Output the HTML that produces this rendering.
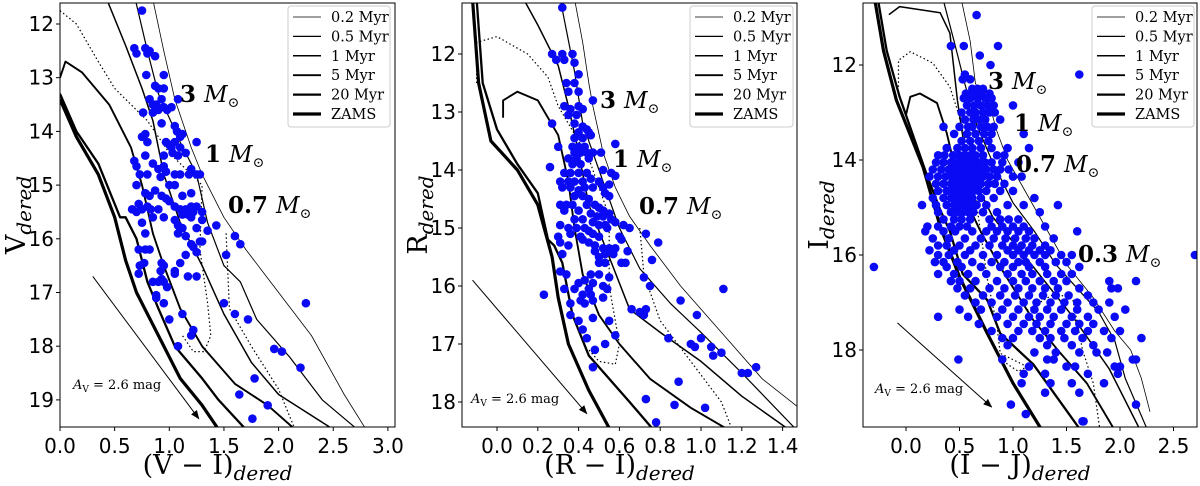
<!DOCTYPE html>
<html><head><meta charset="utf-8">
<style>
html,body{margin:0;padding:0;background:#fff;}
svg{display:block;}
.tick{font-family:"DejaVu Sans","Liberation Sans",sans-serif;font-size:20px;fill:#000;}
.leg{font-family:"DejaVu Serif","Liberation Serif",serif;font-size:14.5px;fill:#000;}
.av{font-family:"DejaVu Serif","Liberation Serif",serif;font-size:13px;fill:#000;}
.ax{font-family:"DejaVu Serif","Liberation Serif",serif;font-size:27px;fill:#000;}
.mass{font-family:"DejaVu Serif","Liberation Serif",serif;font-size:23px;fill:#000;}
</style></head>
<body>
<svg id="fig" width="1200" height="486" viewBox="0 0 1200 486" xmlns="http://www.w3.org/2000/svg"></svg>
<script>
// ---------- Panel 1: V vs (V-I) ----------
const p1Stars = [[0.75,11.75],[0.68,12.45],[0.7,12.55],[0.78,12.45],[0.8,12.55],[0.82,12.5],[0.87,12.6],[0.79,12.95],[0.87,13.15],[0.9,13.2],[0.95,13.2],[0.95,12.95],[1.08,13.4],[0.82,13.4],[0.85,13.5],[0.88,13.5],[0.93,13.4],[0.95,13.55],[0.98,13.6],[1.02,13.55],[0.76,13.65],[0.85,13.65],[0.9,13.6],[0.93,13.85],[1.05,13.9],[1.07,14.0],[1.1,14.1],[1.12,14.05],[0.75,14.1],[0.78,14.05],[0.8,14.2],[0.97,14.2],[1.0,14.25],[1.02,14.3],[1.05,14.2],[1.1,14.3],[1.15,14.4],[1.25,14.2],[0.95,14.45],[1.03,14.4],[1.08,14.45],[0.78,14.45],[0.68,14.55],[0.7,14.65],[0.85,14.6],[0.9,14.7],[0.95,14.65],[0.97,14.75],[1.2,14.7],[1.25,14.8],[1.28,14.8],[0.73,14.8],[0.8,14.8],[0.92,14.85],[1.05,14.8],[1.1,14.8],[1.18,14.8],[0.7,15.0],[1.0,15.0],[1.05,15.0],[0.78,15.15],[0.82,15.2],[0.87,15.1],[0.93,15.2],[0.97,15.25],[1.0,15.3],[1.12,15.2],[1.2,15.15],[0.72,15.35],[0.75,15.45],[0.8,15.4],[0.83,15.45],[0.9,15.45],[1.05,15.4],[1.1,15.45],[1.15,15.45],[1.2,15.4],[1.25,15.4],[1.12,15.55],[1.17,15.55],[1.22,15.5],[1.3,15.5],[0.66,15.45],[0.7,15.5],[0.85,15.6],[0.95,15.6],[1.05,15.65],[1.2,15.6],[1.3,15.65],[0.75,15.7],[1.08,15.75],[1.12,15.8],[1.25,15.8],[1.35,15.85],[1.43,15.75],[1.6,15.95],[1.65,16.1],[0.78,15.9],[1.08,15.9],[1.15,15.95],[1.28,16.05],[1.3,16.05],[1.2,16.1],[0.72,16.2],[0.78,16.2],[0.82,16.2],[1.15,16.3],[1.25,16.25],[1.22,16.15],[1.52,16.3],[1.1,16.45],[0.93,16.45],[0.95,16.5],[0.73,16.5],[0.77,16.45],[1.05,16.6],[0.72,16.65],[0.92,16.6],[0.93,16.75],[0.9,16.8],[0.85,16.8],[0.95,16.8],[0.98,16.9],[1.05,16.65],[1.17,16.7],[1.25,16.7],[0.88,17.05],[0.88,17.1],[0.95,17.2],[2.25,17.2],[1.5,17.2],[1.6,17.4],[1.72,17.5],[1.0,17.5],[1.12,17.4],[1.22,17.7],[1.2,17.8],[1.08,18.0],[1.96,18.05],[2.03,18.1],[2.2,18.4],[1.78,18.6],[1.64,18.9],[1.9,19.1],[1.76,19.35]];
const p1Iso02 = [[0.85,11.55],[0.95,12.5],[1.05,13.4],[1.2,14.3],[1.3,14.8],[1.5,15.6],[1.7,16.2],[2.0,17.0],[2.3,17.8],[2.6,18.9],[2.8,19.55]];
const p1Iso05 = [[0.69,11.55],[0.8,12.5],[0.9,13.3],[1.1,14.2],[1.25,14.8],[1.35,15.7],[1.5,16.5],[1.65,16.8],[1.8,17.5],[2.1,18.2],[2.4,19.0],[2.72,19.55]];
const p1Iso1 = [[0.43,11.55],[0.6,12.4],[0.75,13.2],[0.85,13.8],[0.95,14.8],[1.1,15.7],[1.3,16.5],[1.5,17.4],[1.75,18.3],[2.0,18.9],[2.5,19.55]];
const p1Iso5 = [[0.0,13.0],[0.05,12.7],[0.2,12.9],[0.45,13.5],[0.65,14.3],[0.75,15.0],[0.85,15.9],[0.95,16.5],[1.1,17.3],[1.3,18.0],[1.6,18.7],[1.9,19.1],[2.15,19.55]];
const p1Iso20 = [[0.0,13.3],[0.15,14.0],[0.35,14.6],[0.55,15.6],[0.6,15.6],[0.7,16.0],[0.8,16.8],[0.9,17.3],[1.05,18.0],[1.3,18.6],[1.45,19.0],[1.7,19.55]];
const p1Zams = [[0.0,13.4],[0.15,14.1],[0.35,14.8],[0.5,15.6],[0.6,16.4],[0.7,17.0],[0.9,17.8],[1.1,18.6],[1.3,19.1],[1.45,19.55]];
const p1MassTrack = [[0.0,11.75],[0.15,12.0],[0.35,12.7],[0.5,13.2],[0.65,13.5],[0.8,13.8],[1.0,14.4],[1.3,15.0],[1.28,16.2],[1.35,17.2],[1.38,17.8],[1.32,18.1],[1.22,18.1],[1.12,17.8]];
const p1MassTrack2 = [[1.52,15.9],[1.55,17.3],[1.75,18.0],[2.0,18.8],[2.15,19.55]];
const p1Arrow = [[0.3,16.7],[1.27,19.35]];
const p1XTicks = [0.0,0.5,1.0,1.5,2.0,2.5,3.0];
const p1YTicks = [12,13,14,15,16,17,18,19];

// ---------- Panel 2: R vs (R-I) ----------
const p2Stars = [[0.32,11.2],[0.27,12.0],[0.29,12.1],[0.32,12.0],[0.33,12.1],[0.37,12.0],[0.38,12.15],[0.4,12.35],[0.38,12.5],[0.34,12.5],[0.35,12.65],[0.4,12.65],[0.47,12.8],[0.33,12.9],[0.36,12.95],[0.4,12.9],[0.42,12.95],[0.35,13.05],[0.39,13.05],[0.27,13.2],[0.38,13.2],[0.42,13.25],[0.44,13.3],[0.4,13.35],[0.45,13.35],[0.38,13.45],[0.42,13.45],[0.46,13.4],[0.58,13.55],[0.3,13.6],[0.37,13.6],[0.4,13.6],[0.43,13.6],[0.38,13.7],[0.41,13.7],[0.44,13.7],[0.47,13.7],[0.51,13.7],[0.35,13.8],[0.39,13.8],[0.45,13.8],[0.37,13.9],[0.41,13.9],[0.26,13.95],[0.33,14.05],[0.36,14.05],[0.4,14.05],[0.44,14.05],[0.52,14.0],[0.56,14.05],[0.58,14.1],[0.31,14.2],[0.35,14.2],[0.38,14.2],[0.42,14.2],[0.46,14.15],[0.5,14.2],[0.52,14.3],[0.55,14.25],[0.32,14.3],[0.36,14.3],[0.4,14.35],[0.43,14.3],[0.47,14.3],[0.53,14.4],[0.55,14.45],[0.38,14.45],[0.42,14.45],[0.45,14.5],[0.31,14.6],[0.34,14.6],[0.37,14.6],[0.44,14.6],[0.48,14.6],[0.5,14.65],[0.52,14.7],[0.55,14.75],[0.33,14.7],[0.4,14.7],[0.46,14.75],[0.49,14.8],[0.52,14.8],[0.56,14.85],[0.38,14.85],[0.42,14.85],[0.47,14.9],[0.5,14.95],[0.53,14.95],[0.31,14.95],[0.35,15.0],[0.39,15.0],[0.43,15.0],[0.45,15.05],[0.54,15.0],[0.58,14.9],[0.62,14.95],[0.65,15.0],[0.3,15.15],[0.36,15.1],[0.41,15.15],[0.47,15.1],[0.5,15.15],[0.6,15.15],[0.61,15.2],[0.73,15.1],[0.79,15.25],[0.31,15.25],[0.42,15.2],[0.45,15.25],[0.48,15.3],[0.52,15.35],[0.55,15.35],[0.58,15.35],[0.35,15.3],[0.48,15.4],[0.5,15.5],[0.53,15.45],[0.57,15.45],[0.64,15.4],[0.5,15.6],[0.53,15.6],[0.61,15.6],[0.63,15.6],[0.32,15.45],[0.76,15.55],[0.31,15.75],[0.34,15.8],[0.46,15.8],[0.5,15.8],[0.55,15.85],[0.72,15.85],[0.75,16.0],[0.4,15.95],[0.43,15.9],[0.47,15.95],[0.52,16.0],[0.54,16.05],[0.33,16.05],[0.38,16.05],[0.45,16.05],[0.23,16.15],[0.42,16.15],[0.46,16.15],[0.52,16.2],[0.36,16.3],[0.41,16.25],[0.43,16.3],[0.47,16.25],[0.9,16.25],[0.84,16.9],[0.66,16.4],[0.7,16.45],[0.72,16.5],[0.73,16.4],[0.36,16.5],[0.47,16.55],[0.55,16.6],[0.98,16.5],[0.4,16.6],[0.42,16.75],[0.44,16.9],[0.58,16.85],[0.53,17.0],[1.0,16.9],[0.95,17.0],[0.97,17.05],[1.05,17.05],[1.06,17.2],[1.1,17.15],[0.48,17.1],[0.47,17.4],[1.2,17.5],[1.23,17.5],[1.27,17.4],[1.11,16.05],[0.89,17.65],[0.73,17.95],[0.87,18.05],[1.02,18.1],[0.78,18.35]];
const p2Iso02 = [[0.38,11.05],[0.42,11.8],[0.45,12.5],[0.47,12.9],[0.52,13.7],[0.58,14.3],[0.65,14.8],[0.75,15.3],[0.9,16.0],[1.1,16.8],[1.3,17.6],[1.48,18.1]];
const p2Iso05 = [[0.31,11.05],[0.38,12.3],[0.42,13.2],[0.5,14.0],[0.55,14.5],[0.6,15.0],[0.7,15.7],[0.85,16.3],[1.0,16.8],[1.2,17.5],[1.46,18.45]];
const p2Iso1 = [[0.13,11.05],[0.2,11.5],[0.3,12.2],[0.35,12.9],[0.4,13.7],[0.45,14.6],[0.55,15.5],[0.65,16.4],[0.8,16.8],[1.0,17.3],[1.2,17.9],[1.42,18.45]];
const p2Iso5 = [[0.03,13.1],[0.03,12.8],[0.1,12.65],[0.2,12.8],[0.3,13.4],[0.35,14.2],[0.38,15.0],[0.42,15.8],[0.5,16.5],[0.6,17.0],[0.75,17.6],[0.95,18.1],[1.12,18.45]];
const p2Iso20 = [[-0.1,11.05],[-0.07,12.5],[0.0,13.3],[0.1,13.9],[0.2,14.4],[0.25,15.2],[0.28,15.3],[0.32,15.6],[0.37,16.5],[0.45,17.2],[0.55,17.6],[0.65,18.0],[0.76,18.45]];
const p2Zams = [[-0.12,11.05],[-0.09,12.5],[-0.03,13.5],[0.1,14.0],[0.2,14.6],[0.27,15.5],[0.3,16.2],[0.35,17.0],[0.45,17.8],[0.55,18.45]];
const p2MassTrack = [[-0.1,12.5],[-0.1,11.8],[0.0,11.7],[0.15,12.0],[0.25,12.4],[0.3,12.9],[0.45,13.8],[0.55,14.8],[0.55,16.0],[0.6,17.0],[0.58,17.35],[0.5,17.3],[0.45,17.1]];
const p2MassTrack2 = [[0.7,15.0],[0.72,15.8],[0.8,16.6],[0.95,17.3],[1.1,18.0],[1.15,18.45]];
const p2Arrow = [[-0.12,15.9],[0.44,18.2]];
const p2XTicks = [0.0,0.2,0.4,0.6,0.8,1.0,1.2,1.4];
const p2YTicks = [12,13,14,15,16,17,18];

// ---------- Panel 3: I vs (I-J) ----------
const p3RowMags = [10.95,11.6,11.8,12.0,12.2,12.3,12.5,12.6,12.7,12.85,13.0,13.15,13.3,13.45,13.6,13.75,13.9,14.05,14.2,14.35,14.5,14.65,14.8,14.95,15.1,15.25,15.4,15.5,15.65,15.8,15.9,16.0,16.15,16.25,16.4,16.55,16.7,16.85,17.0,17.15,17.3,17.45,17.6,17.75,17.9,18.05,18.2,18.35,18.5,18.7,18.9,19.15,19.35,19.5];
const p3RowColors = [[0.66],[0.42,0.54,0.86],[0.69],[0.79],[0.55,1.62],[0.53,0.6],[0.62,0.67,0.72],[0.56,0.63,0.7,0.78],[0.54,0.6,0.67,0.74,0.8],[0.57,0.64,0.7,0.76,0.82,1.0],[0.52,0.6,0.65,0.72,0.78,0.83],[0.55,0.63,0.68,0.74,0.88],[0.35,0.5,0.58,0.62,0.7,0.76,0.82],[0.45,0.57,0.65,0.73,0.8,1.1],[0.52,0.6,0.68,0.77],[0.38,0.48,0.55,0.62,0.7,0.8,0.95,1.15],[0.3,0.36,0.44,0.5,0.55,0.6,0.65,0.72,0.85,0.92],[0.28,0.35,0.42,0.48,0.53,0.58,0.63,0.68,0.74,0.8,0.9,1.05],[0.25,0.33,0.4,0.45,0.5,0.55,0.6,0.65,0.7,0.75,0.82,0.88,0.96],[0.22,0.3,0.37,0.43,0.48,0.53,0.58,0.62,0.67,0.72,0.78,0.85,1.0,1.08],[0.28,0.35,0.42,0.46,0.5,0.55,0.6,0.65,0.7,0.77,0.83,0.92],[0.3,0.38,0.44,0.48,0.53,0.58,0.63,0.68,0.75,0.88,1.0],[0.25,0.35,0.42,0.47,0.52,0.57,0.62,0.7,0.82,1.2],[0.15,0.28,0.38,0.45,0.5,0.55,0.6,0.66,0.75,0.95,1.1,1.42],[0.3,0.42,0.48,0.53,0.58,0.63,0.72,0.85,1.25],[0.35,0.45,0.52,0.6,0.78,0.88,0.96,1.05],[0.2,0.3,0.42,0.5,0.57,0.8,0.9,1.0,1.1,1.3],[0.18,0.35,0.46,0.62,0.75,0.85,0.95,1.05,1.15,1.6],[0.25,0.4,0.55,0.7,0.82,0.93,1.02,1.12,1.2,1.38],[0.3,0.38,0.5,0.65,0.78,0.9,1.0,1.08,1.18,1.3],[0.22,0.45,0.6,0.95,1.05,1.15,1.25,1.35],[0.3,0.4,0.55,0.72,0.85,1.0,1.1,1.2,1.3,1.45,1.55,2.7],[0.27,0.35,0.48,0.62,0.8,0.92,1.05,1.12,1.25,1.4,1.5],[-0.3,0.38,0.52,0.7,0.88,1.0,1.15,1.3,1.62],[0.3,0.45,0.58,0.75,0.95,1.08,1.18,1.32,1.45,1.55],[0.42,0.5,0.65,0.85,1.0,1.12,1.25,1.38,1.5,1.9,2.15],[0.48,0.6,0.78,0.92,1.05,1.18,1.3,1.42,1.62,1.92,1.98],[0.55,0.72,0.88,1.02,1.15,1.28,1.4,1.52,1.7],[0.65,0.8,0.95,1.1,1.22,1.35,1.48,1.6,1.75,1.9],[0.5,0.7,0.9,1.05,1.2,1.32,1.45,1.6,1.8,2.05],[0.3,0.58,0.85,1.0,1.15,1.25,1.38,1.55,1.7,1.95],[0.68,0.95,1.1,1.22,1.35,1.5,1.62,1.75],[0.8,1.05,1.18,1.3,1.45,1.58,1.7,1.85,2.0],[0.9,1.0,1.25,1.35,1.48,1.65,1.92,2.2],[0.95,1.32,1.55,1.75],[1.2,1.4,1.62,1.78,1.88],[0.49,0.9,1.32,1.38,2.12,2.15],[1.15,1.5,1.58,1.95,2.0],[1.1,1.3,1.7,1.98],[1.08,1.35,1.55,1.85],[1.3,1.62],[0.98,2.15],[1.12],[1.65,1.66]];
const p3Iso02 = [[0.52,10.65],[0.6,11.5],[0.65,12.4],[0.75,12.6],[0.85,13.4],[0.95,14.0],[1.1,14.6],[1.3,15.4],[1.5,16.2],[1.75,16.9],[1.95,17.6],[2.1,18.0],[2.2,18.6],[2.28,19.3]];
const p3Iso05 = [[0.35,10.65],[0.45,11.5],[0.55,12.4],[0.65,13.2],[0.8,14.0],[1.0,14.9],[1.2,15.5],[1.4,16.2],[1.6,16.7],[1.8,17.2],[1.95,17.8],[2.05,18.6],[2.25,19.65]];
const p3Iso1 = [[-0.16,10.94],[-0.06,10.77],[0.32,10.9],[0.41,11.33],[0.48,12.74],[0.57,14.1],[0.81,15.2],[1.19,16.25],[1.56,17.3],[1.9,18.4],[2.18,19.65]];
const p3Iso5 = [[0.0,13.05],[0.04,12.67],[0.13,12.6],[0.29,12.8],[0.38,13.43],[0.5,14.57],[0.69,15.47],[0.88,16.25],[1.19,17.37],[1.44,18.06],[1.69,18.7],[1.94,19.65]];
const p3Iso20 = [[-0.26,10.65],[-0.18,11.7],[-0.06,12.67],[0.2,14.35],[0.32,15.05],[0.41,15.5],[0.53,16.4],[0.76,16.95],[0.88,17.65],[1.19,18.3],[1.62,19.65]];
const p3Zams = [[-0.29,10.65],[-0.21,11.7],[-0.09,12.74],[0.16,14.15],[0.32,15.4],[0.5,16.46],[0.76,17.65],[1.0,18.7],[1.26,19.65]];
const p3MassTrack = [[-0.07,12.46],[-0.07,11.9],[0.04,11.72],[0.25,11.96],[0.41,12.46],[0.48,12.95],[0.6,14.0],[0.76,16.5],[0.85,17.5],[0.88,18.07],[1.13,18.35],[1.05,18.45],[0.95,18.3],[0.9,18.2]];
const p3MassTrack2 = [[1.13,17.16],[1.4,16.8],[1.56,16.95],[1.65,18.0],[1.75,18.7],[1.81,19.65]];
const p3Arrow = [[-0.08,17.43],[0.8,19.2]];
const p3XTicks = [0.0,0.5,1.0,1.5,2.0,2.5];
const p3YTicks = [12,14,16,18];

const legendLabels = ["0.2 Myr","0.5 Myr","1 Myr","5 Myr","20 Myr","ZAMS"];

const NS = "http://www.w3.org/2000/svg";
const svg = document.getElementById("fig");
function mk(tag, attrs, parent){
  const e = document.createElementNS(NS, tag);
  for (const k in attrs) e.setAttribute(k, attrs[k]);
  (parent||svg).appendChild(e);
  return e;
}

const panels = [
  {id:"p1", box:[60,3,395,427], sx:x=>60+109.3*x, sy:y=>24+53.7*(y-12), xt:p1XTicks, yt:p1YTicks,
   stars:p1Stars, iso:[p1Iso02,p1Iso05,p1Iso1,p1Iso5,p1Iso20,p1Zams], tracks:[p1MassTrack,p1MassTrack2], arrow:p1Arrow,
   mag:"V", col:"(V \u2212 I)", masses:[["3",180,102],["1",205,162],["0.7",228,213]], leg:[288,6,390,127],
   avPos:[73,389]},
  {id:"p2", box:[462,3,797,427], sx:x=>497+204*x, sy:y=>54+58*(y-12), xt:p2XTicks, yt:p2YTicks,
   stars:p2Stars, iso:[p2Iso02,p2Iso05,p2Iso1,p2Iso5,p2Iso20,p2Zams], tracks:[p2MassTrack,p2MassTrack2], arrow:p2Arrow,
   mag:"R", col:"(R \u2212 I)", masses:[["3",600,108],["1",613,167],["0.7",639,214]], leg:[690,6,793,127],
   avPos:[471,403]},
  {id:"p3", box:[863,3,1197,427], sx:x=>906+107*x, sy:y=>65+47.5*(y-12), xt:p3XTicks, yt:p3YTicks,
   stars:null, iso:[p3Iso02,p3Iso05,p3Iso1,p3Iso5,p3Iso20,p3Zams], tracks:[p3MassTrack,p3MassTrack2], arrow:p3Arrow,
   mag:"I", col:"(I \u2212 J)", masses:[["3",988,89],["1",1014,131],["0.7",1016,172],["0.3",1078,262]], leg:[1092,6,1194,127],
   avPos:[875,393]}
];
const isoWidths = [0.8,1.2,1.5,1.9,2.3,3.2];
const isoNames = ["isochrone-0-2-myr","isochrone-0-5-myr","isochrone-1-myr","isochrone-5-myr","isochrone-20-myr","zams-line"];

const defs = mk("defs",{});
const mkr = mk("marker",{id:"ah",viewBox:"0 0 10 10",refX:"9",refY:"5",markerWidth:"9",markerHeight:"9",orient:"auto-start-reverse",markerUnits:"userSpaceOnUse"},defs);
mk("path",{d:"M0,1 L10,5 L0,9 z",fill:"#000"},mkr);

panels.forEach((P)=>{
  const [x0,y0,x1,y1] = P.box;
  const cp = mk("clipPath",{id:"clip-"+P.id},defs);
  mk("rect",{x:x0,y:y0,width:x1-x0,height:y1-y0},cp);
  const g = mk("g",{});
  
  
  const plot = mk("g",{"clip-path":"url(#clip-"+P.id+")"},g);
  P.iso.forEach((pts,i)=>{
    const d = pts.map((p,j)=>(j?"L":"M")+P.sx(p[0]).toFixed(1)+","+P.sy(p[1]).toFixed(1)).join(" ");
    const path = mk("path",{d:d,fill:"none",stroke:"#000","stroke-width":isoWidths[i],"stroke-linejoin":"round"},plot);
    
    
  });
  P.tracks.forEach((pts)=>{
    const d = pts.map((p,j)=>(j?"L":"M")+P.sx(p[0]).toFixed(1)+","+P.sy(p[1]).toFixed(1)).join(" ");
    const path = mk("path",{d:d,fill:"none",stroke:"#000","stroke-width":1.2,"stroke-dasharray":"1.5,2.5"},plot);
    
    
  });
  const sg = mk("g",{fill:"#0a0af5"},plot);
  
  
  let pts = [];
  if (P.stars) pts = P.stars;
  else p3RowMags.forEach((m,i)=>p3RowColors[i].forEach(c=>pts.push([c,m])));
  pts.forEach(p=>{
    const c = mk("circle",{cx:P.sx(p[0]).toFixed(1),cy:P.sy(p[1]).toFixed(1),r:4.3},sg);
    
    
  });
  const a = P.arrow;
  const ar = mk("line",{x1:P.sx(a[0][0]),y1:P.sy(a[0][1]),x2:P.sx(a[1][0]),y2:P.sy(a[1][1]),stroke:"#000","stroke-width":1,"marker-end":"url(#ah)"},g);
  
  
  const av = mk("text",{x:P.avPos[0],y:P.avPos[1],class:"av"},g);
  
  
  av.innerHTML = '<tspan font-style="italic">A</tspan><tspan font-size="9" dy="3">V</tspan><tspan dy="-3"> = 2.6 mag</tspan>';
  P.masses.forEach(m=>{
    const t = mk("text",{x:m[1],y:m[2],class:"mass"},g);
    
    
    t.innerHTML = '<tspan font-weight="bold">'+m[0]+'</tspan><tspan font-style="italic" dx="8">M</tspan><tspan font-size="14" dy="5">\u2299</tspan>';
  });
  const fr = mk("rect",{x:x0,y:y0,width:x1-x0,height:y1-y0,fill:"none",stroke:"#000","stroke-width":1},g);
  
  
  P.xt.forEach(v=>{
    const x = P.sx(v);
    mk("line",{x1:x,y1:y1,x2:x,y2:y1+4,stroke:"#000"},g);
    const t = mk("text",{x:x,y:y1+26,"text-anchor":"middle",class:"tick"},g);
    
    
    t.textContent = v.toFixed(1);
  });
  P.yt.forEach(v=>{
    const y = P.sy(v);
    mk("line",{x1:x0-4,y1:y,x2:x0,y2:y,stroke:"#000"},g);
    const t = mk("text",{x:x0-6,y:y+7,"text-anchor":"end",class:"tick"},g);
    
    
    t.textContent = v;
  });
  const cx = (x0+x1)/2;
  const xl = mk("text",{x:cx-10,y:474,"text-anchor":"middle",class:"ax"},g);
  
  
  xl.innerHTML = P.col+'<tspan font-style="italic" font-size="20" dy="6">dered</tspan>';
  const yl = mk("text",{x:0,y:0,"text-anchor":"middle",class:"ax",transform:"translate("+(x0-35)+",215) rotate(-90)"},g);
  
  
  yl.innerHTML = P.mag+'<tspan font-style="italic" font-size="20" dy="6">dered</tspan>';
  const [lx0,ly0,lx1,ly1] = P.leg;
  const lg = mk("g",{},g);
  
  
  mk("rect",{x:lx0,y:ly0,width:lx1-lx0,height:ly1-ly0,rx:3,fill:"#fff","fill-opacity":0.85,stroke:"#ccc"},lg);
  legendLabels.forEach((lab,i)=>{
    const y = ly0+11+i*19.4;
    const ln = mk("line",{x1:lx0+5,y1:y,x2:lx0+33,y2:y,stroke:"#000","stroke-width":isoWidths[i]},lg);
    
    
    const t = mk("text",{x:lx0+43,y:y+5,class:"leg"},lg);
    
    
    t.textContent = lab;
  });
});
</script>
</body></html>
